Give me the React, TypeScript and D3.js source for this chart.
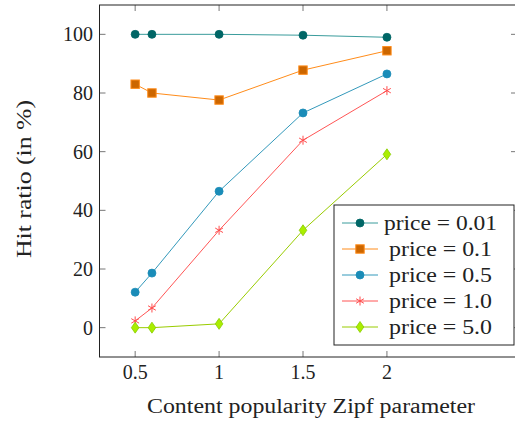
import React from "react";
import * as d3 from "d3";

const zipf = [0.5, 0.6, 1, 1.5, 2];
const p001 = [100, 100, 100, 99.7, 99.0];
const p01 = [83.0, 80.0, 77.6, 87.8, 94.4];
const p05 = [12.1, 18.6, 46.5, 73.2, 86.5];
const p10 = [2.3, 6.7, 33.2, 63.9, 80.8];
const p50 = [0, 0, 1.3, 33.2, 59.1];
const seriesNames = ["price = 0.01", "price = 0.1", "price = 0.5", "price = 1.0", "price = 5.0"];
const xTicks = [0.5, 1, 1.5, 2];
const yTicks = [0, 20, 40, 60, 80, 100];

const styles = [
  { line: "#3a9c9c", fill: "#006666", stroke: "#006666", marker: "circle" },
  { line: "#ff8c1a", fill: "#cc6600", stroke: "#ff8c1a", marker: "square" },
  { line: "#3399bb", fill: "#1a8cb8", stroke: "#1a8cb8", marker: "circle" },
  { line: "#ff5555", fill: "none", stroke: "#ff4d4d", marker: "star" },
  { line: "#99cc00", fill: "#aaee00", stroke: "#88cc00", marker: "diamond" },
];

const L = 99.5, R = 517, T = 5, B = 357;
const x = d3.scaleLinear().domain([0.2875, 2.775]).range([L, R]);
const y = d3.scaleLinear().domain([-10, 110]).range([B, T]);
const FONT = "Liberation Serif, DejaVu Serif, serif";

function Marker({ kind, cx, cy, s }: any) {
  if (kind === "circle") return <circle cx={cx} cy={cy} r={4} fill={s.fill} stroke={s.stroke} strokeWidth={0.8} />;
  if (kind === "square") return <rect x={cx - 4.2} y={cy - 4.2} width={8.4} height={8.4} fill={s.fill} stroke={s.stroke} strokeWidth={1} />;
  if (kind === "diamond") return <path d={`M${cx},${cy - 5.5}L${cx + 3.8},${cy}L${cx},${cy + 5.5}L${cx - 3.8},${cy}Z`} fill={s.fill} stroke={s.stroke} strokeWidth={0.8} />;
  const r = 4.5;
  const d = [0, 1, 2].map((i) => {
    const a = (i * Math.PI) / 3 + Math.PI / 2;
    return `M${cx + r * Math.cos(a)},${cy - r * Math.sin(a)}L${cx - r * Math.cos(a)},${cy + r * Math.sin(a)}`;
  }).join("");
  return <path d={d} stroke={s.stroke} strokeWidth={1} fill="none" />;
}

export default function App() {
  const data = [p001, p01, p05, p10, p50];
  const line = d3.line<number>().x((_, i) => x(zipf[i])).y((v) => y(v));
  const legX = 334, legY = 205, legW = 180, legH = 140, rowH = 26;
  const txt = { fontFamily: FONT, fontSize: 20, fill: "#222" } as any;
  return (
    <svg width={515} height={424} style={{ position: "absolute", left: 0, top: 0, background: "#fff" }}>
      <rect width={515} height={424} fill="#fff" />
      {xTicks.map((t) => (
        <g key={"xt" + t}>
          <line x1={x(t)} x2={x(t)} y1={B} y2={B - 6} stroke="#777" />
          <line x1={x(t)} x2={x(t)} y1={T} y2={T + 6} stroke="#777" />
          <text x={x(t)} y={379} textAnchor="middle" style={txt}>{t}</text>
        </g>
      ))}
      {yTicks.map((t) => (
        <g key={"yt" + t}>
          <line x1={L} x2={L + 6} y1={y(t)} y2={y(t)} stroke="#777" />
          <line x1={R} x2={R - 6} y1={y(t)} y2={y(t)} stroke="#777" />
          <text x={93} y={y(t)} dy="0.35em" textAnchor="end" style={txt}>{t}</text>
        </g>
      ))}
      {data.map((vals, si) => (
        <g key={"s" + si}>
          <path d={line(vals) || ""} fill="none" stroke={styles[si].line} strokeWidth={1} />
          {vals.map((v, i) => (
            <Marker key={i} kind={styles[si].marker} cx={x(zipf[i])} cy={y(v)} s={styles[si]} />
          ))}
        </g>
      ))}
      <rect x={L} y={T} width={R - L} height={B - T} fill="none" stroke="#222" strokeWidth={1} />
      <rect x={legX} y={legY} width={legW} height={legH} fill="#fff" stroke="#222" strokeWidth={1} />
      {seriesNames.map((n, i) => {
        const cy = legY + 18 + i * rowH;
        return (
          <g key={"lg" + i}>
            <line x1={342} x2={378} y1={cy} y2={cy} stroke={styles[i].line} strokeWidth={1} />
            <Marker kind={styles[i].marker} cx={360} cy={cy} s={styles[i]} />
            <text x={440.5} y={cy} dy="0.35em" textAnchor="middle" style={txt}
              textLength={i === 0 ? 113 : 103} lengthAdjust="spacingAndGlyphs">{n}</text>
          </g>
        );
      })}
      <text x={311} y={413} textAnchor="middle" style={txt} textLength={328} lengthAdjust="spacingAndGlyphs">Content popularity Zipf parameter</text>
      <text transform="translate(31,179) rotate(-90)" textAnchor="middle" style={txt} textLength={158} lengthAdjust="spacingAndGlyphs">Hit ratio (in %)</text>
    </svg>
  );
}
